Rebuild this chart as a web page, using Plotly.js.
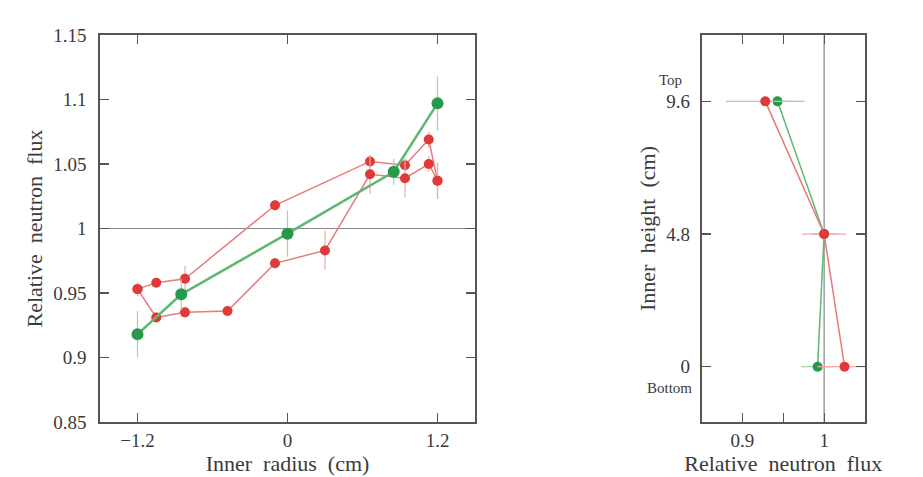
<!DOCTYPE html>
<html>
<head>
<meta charset="utf-8">
<script src="https://cdn.plot.ly/plotly-3.0.1.min.js"></script>
<style>html,body{margin:0;padding:0;background:#fff;}#chart{width:923px;height:477px;}</style>
</head>
<body>
<div id="chart"></div>
<script>
// Left panel: radial profile
const greenRadiusX = [-1.2, -0.85, 0, 0.85, 1.2];
const greenRadiusY = [0.918, 0.949, 0.996, 1.044, 1.097];
const greenRadiusErr = [0.018, 0.012, 0.018, 0.010, 0.021];

const redUpperX = [-1.2, -1.05, -0.82, -0.1, 0.66, 0.94, 1.13, 1.2];
const redUpperY = [0.953, 0.958, 0.961, 1.018, 1.052, 1.049, 1.069, 1.037];
const redUpperErr = [0.005, 0.004, 0.010, 0.004, 0.005, 0.005, 0.006, 0.014];

const redLowerX = [-1.2, -1.05, -0.82, -0.48, -0.1, 0.3, 0.66, 0.94, 1.13, 1.2];
const redLowerY = [0.953, 0.931, 0.935, 0.936, 0.973, 0.983, 1.042, 1.039, 1.050, 1.037];
const redLowerErr = [0.005, 0.004, 0.004, 0.004, 0.004, 0.015, 0.015, 0.015, 0.006, 0.014];

const radiusTicks = [-1.2, 0, 1.2];
const radiusTickText = ["\u22121.2", "0", "1.2"];
const fluxTicks = [0.85, 0.9, 0.95, 1, 1.05, 1.1, 1.15];
const fluxTickText = ["0.85", "0.9", "0.95", "1", "1.05", "1.1", "1.15"];

// Right panel: axial profile
const heightY = [9.6, 4.8, 0];
const redHeightX = [0.928, 1.0, 1.025];
const redHeightErr = [0.048, 0.027, 0.033];
const greenHeightX = [0.943, 1.0, 0.992];
const greenHeightErr = [0.020, 0.015, 0.020];
const heightTicks = [0, 4.8, 9.6];
const heightTickText = ["0", "4.8", "9.6"];
const fluxTicksRight = [0.9, 0.95, 1];
const fluxTickTextRight = ["0.9", "", "1"];

const RED = "#e0393a", REDLINE = "#e77a7a", REDERR = "#f0a8a8";
const GREEN = "#27994a", GREENLINE = "#5db872", GREENERR = "#9fd4aa";
const FONT = "Liberation Serif";
const TXT = "#3a3a3a";

const traces = [
  {x: redUpperX, y: redUpperY, xaxis: "x", yaxis: "y", mode: "lines+markers",
   line: {color: REDLINE, width: 1.5}, marker: {color: RED, size: 10},
   error_y: {type: "data", array: redUpperErr, color: REDERR, thickness: 1.2, width: 0}},
  {x: redLowerX, y: redLowerY, xaxis: "x", yaxis: "y", mode: "lines+markers",
   line: {color: REDLINE, width: 1.5}, marker: {color: RED, size: 10},
   error_y: {type: "data", array: redLowerErr, color: REDERR, thickness: 1.2, width: 0}},
  {x: greenRadiusX, y: greenRadiusY, xaxis: "x", yaxis: "y", mode: "lines+markers",
   line: {color: GREENLINE, width: 2.5}, marker: {color: GREEN, size: 12},
   error_y: {type: "data", array: greenRadiusErr, color: GREENERR, thickness: 1.2, width: 0}},
  {x: greenHeightX, y: heightY, xaxis: "x2", yaxis: "y2", mode: "lines+markers",
   line: {color: GREENLINE, width: 1.5}, marker: {color: GREEN, size: 10},
   error_x: {type: "data", array: greenHeightErr, color: GREENERR, thickness: 1.2, width: 0}},
  {x: redHeightX, y: heightY, xaxis: "x2", yaxis: "y2", mode: "lines+markers",
   line: {color: REDLINE, width: 1.5}, marker: {color: RED, size: 10},
   error_x: {type: "data", array: redHeightErr, color: REDERR, thickness: 1.2, width: 0}}
];

const axisCommon = {
  showgrid: false, zeroline: false, showline: true, linecolor: "#555", linewidth: 1.8,
  mirror: "ticks", ticks: "inside", ticklen: 9, tickcolor: "#555", tickwidth: 1.2,
  tickfont: {family: FONT, size: 19, color: TXT}
};
const titleFont = {family: FONT, size: 22, color: TXT};

const layout = {
  width: 923, height: 477,
  margin: {l: 0, r: 0, t: 0, b: 0},
  paper_bgcolor: "#fff", plot_bgcolor: "#fff",
  showlegend: false,
  font: {family: FONT, color: TXT},
  xaxis: Object.assign({}, axisCommon, {
    domain: [100/923, 475/923], range: [-1.5, 1.5], anchor: "y",
    tickmode: "array", tickvals: radiusTicks, ticktext: radiusTickText,
    title: {text: "Inner  radius  (cm)", font: titleFont, standoff: 0}
  }),
  yaxis: Object.assign({}, axisCommon, {
    domain: [1 - 422/477, 1 - 35/477], range: [0.85, 1.15], anchor: "x",
    tickmode: "array", tickvals: fluxTicks, ticktext: fluxTickText,
    ticklabelstandoff: 8,
    title: {text: "Relative  neutron  flux", font: titleFont, standoff: 4}
  }),
  xaxis2: Object.assign({}, axisCommon, {
    domain: [701.5/923, 865/923], range: [0.85, 1.05], anchor: "y2",
    tickmode: "array", tickvals: fluxTicksRight, ticktext: fluxTickTextRight,
    title: {text: "Relative  neutron  flux", font: titleFont, standoff: 0}
  }),
  yaxis2: Object.assign({}, axisCommon, {
    domain: [1 - 422/477, 1 - 35/477], range: [-2, 12], anchor: "x2",
    tickmode: "array", tickvals: heightTicks, ticktext: heightTickText,
    ticklabelstandoff: 6,
    title: {text: "Inner  height  (cm)", font: titleFont, standoff: 4}
  }),
  shapes: [
    {type: "line", xref: "x domain", yref: "y", x0: 0, x1: 1, y0: 1, y1: 1,
     line: {color: "#888", width: 1.2}, layer: "below"},
    {type: "line", xref: "x2", yref: "y2 domain", x0: 1, x1: 1, y0: 0, y1: 1,
     line: {color: "#888", width: 1.2}, layer: "below"}
  ],
  annotations: [
    {text: "Top", xref: "paper", yref: "y2", x: 684/923, y: 9.6, yshift: 21,
     xanchor: "right", yanchor: "middle", showarrow: false,
     font: {family: FONT, size: 15, color: TXT}},
    {text: "Bottom", xref: "paper", yref: "y2", x: 694/923, y: 0, yshift: -21,
     xanchor: "right", yanchor: "middle", showarrow: false,
     font: {family: FONT, size: 15, color: TXT}}
  ]
};

Plotly.newPlot("chart", traces, layout, {displayModeBar: false, staticPlot: true});
</script>
</body>
</html>
